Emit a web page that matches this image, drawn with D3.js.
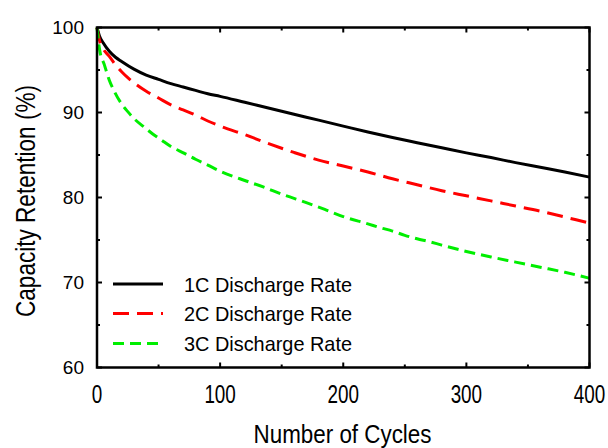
<!DOCTYPE html>
<html><head><meta charset="utf-8">
<script src="https://cdn.jsdelivr.net/npm/d3@7"></script>
<style>body{margin:0;background:#fff}svg{display:block}text{font-family:"Liberation Sans",Arial,sans-serif;fill:#000}</style>
</head><body><svg id="c" width="608" height="448"></svg>
<script>
const cycles1C = [0,2,5,10,15,20,30,40,50,60,70,80,90,100,120,140,160,180,200,220,240,260,280,300,320,340,360,380,400];
const values1C = [100,99.0,98.2,97.2,96.5,96.0,95.1,94.4,93.9,93.4,93.0,92.6,92.2,91.9,91.2,90.5,89.8,89.1,88.4,87.7,87.05,86.45,85.85,85.25,84.7,84.1,83.55,83.0,82.4];
const cycles2C = [0,2,5,10,15,20,25,30,40,50,60,70,80,90,100,120,140,160,180,200,220,240,260,280,300,320,340,360,380,400];
const values2C = [100,98.5,97.5,96.6,95.6,94.8,94.1,93.5,92.5,91.7,90.9,90.3,89.7,89.0,88.4,87.4,86.3,85.3,84.4,83.7,83.0,82.2,81.5,80.8,80.2,79.6,79.0,78.4,77.7,77.0];
const cycles3C = [0,2,6,10,14,20,25,30,39,45,52,60,71,80,90,100,120,135,150,170,185,200,220,230,240,250,260,270,280,300,320,340,360,380,400];
const values3C = [100,97.5,95.6,93.8,92.5,91.0,90.1,89.3,88.2,87.5,86.8,86.0,85.2,84.5,83.8,83.1,82.0,81.25,80.4,79.4,78.6,77.75,76.9,76.45,76.05,75.55,75.15,74.8,74.4,73.65,73.0,72.4,71.8,71.2,70.5];
const seriesNames = ["1C Discharge Rate","2C Discharge Rate","3C Discharge Rate"];
const xTicks = [0,100,200,300,400];
const yTicks = [60,70,80,90,100];
const xLabel = "Number of Cycles";
const yLabel = "Capacity Retention (%)";

const series = [
  {name: seriesNames[0], x: cycles1C, y: values1C, color: "#000000", dash: null},
  {name: seriesNames[1], x: cycles2C, y: values2C, color: "#ff0000", dash: "16,8"},
  {name: seriesNames[2], x: cycles3C, y: values3C, color: "#00ee00", dash: "11,6"}
];

const L = 97, R = 589.5, T = 27.5, B = 367.5;
const svg = d3.select("#c");
const x = d3.scaleLinear().domain([0,400]).range([L,R]);
const y = d3.scaleLinear().domain([60,100]).range([B,T]);

const line = d3.line().x(d=>x(d[0])).y(d=>y(d[1])).curve(d3.curveMonotoneX);
series.forEach(s=>{
  svg.append("path").datum(s.x.map((c,i)=>[c,s.y[i]]))
    .attr("d", line).attr("fill","none").attr("stroke", s.color)
    .attr("stroke-width", 3).attr("stroke-dasharray", s.dash);
});

// ticks (inward), all four sides
const xMinor = d3.range(50,400,100), yMinor = d3.range(65,100,10);
const tk = svg.append("g").attr("stroke","#000").attr("stroke-width",2);
function xt(v,len){ tk.append("line").attr("x1",x(v)).attr("x2",x(v)).attr("y1",B).attr("y2",B-len);
                    tk.append("line").attr("x1",x(v)).attr("x2",x(v)).attr("y1",T).attr("y2",T+len); }
function yt(v,len){ tk.append("line").attr("y1",y(v)).attr("y2",y(v)).attr("x1",L).attr("x2",L+len);
                    tk.append("line").attr("y1",y(v)).attr("y2",y(v)).attr("x1",R).attr("x2",R-len); }
xTicks.forEach(v=>xt(v,5)); xMinor.forEach(v=>xt(v,3));
yTicks.forEach(v=>yt(v,5)); yMinor.forEach(v=>yt(v,3));

svg.append("rect").attr("x",L).attr("y",T).attr("width",R-L).attr("height",B-T)
  .attr("fill","none").attr("stroke","#000").attr("stroke-width",2.5);

// tick labels
xTicks.forEach(v=>{
  svg.append("text").attr("x",x(v)).attr("y",403).attr("text-anchor","middle")
    .attr("font-size",25).attr("textLength", String(v).length*10.5).attr("lengthAdjust","spacingAndGlyphs").text(v);
});
yTicks.forEach(v=>{
  svg.append("text").attr("x",84).attr("y",y(v)+6.7).attr("text-anchor","end")
    .attr("font-size",19).text(v);
});

svg.append("text").attr("x",342.5).attr("y",443).attr("text-anchor","middle")
  .attr("font-size",26).attr("textLength",178).attr("lengthAdjust","spacingAndGlyphs").text(xLabel);
svg.append("text").attr("transform","translate(35,201) rotate(-90)").attr("text-anchor","middle")
  .attr("font-size",27).attr("textLength",232).attr("lengthAdjust","spacingAndGlyphs").text(yLabel);

// legend
const legRows = [284,313.5,343.5];
series.forEach((s,i)=>{
  svg.append("line").attr("x1",113).attr("x2",163).attr("y1",legRows[i]).attr("y2",legRows[i])
    .attr("stroke",s.color).attr("stroke-width",3).attr("stroke-dasharray",s.dash);
  svg.append("text").attr("x",184).attr("y",legRows[i]+7.5).attr("font-size",21)
    .attr("textLength",168).attr("lengthAdjust","spacingAndGlyphs").text(s.name);
});
</script></body></html>
